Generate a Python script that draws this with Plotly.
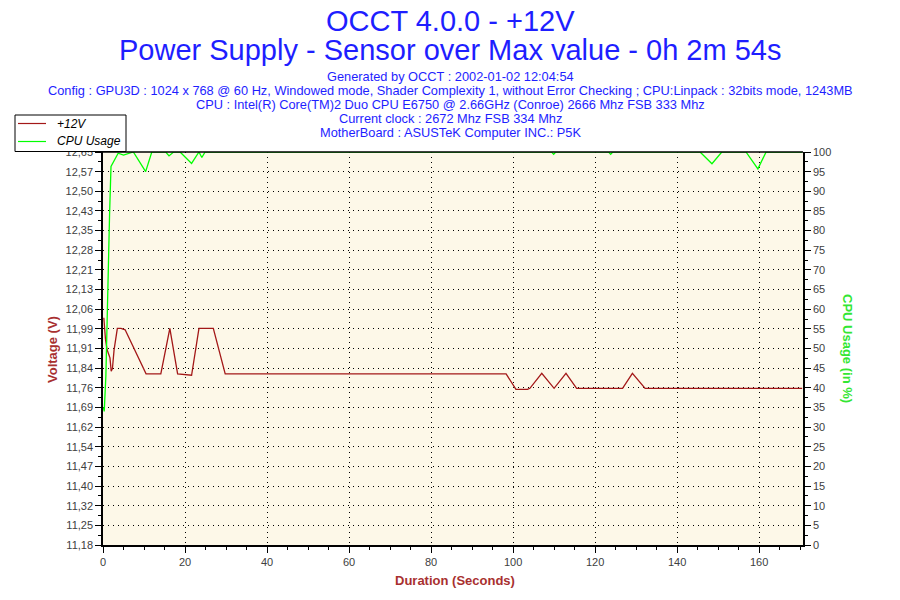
import numpy as np
import plotly.graph_objects as go

# datos
tiempo_v = [0.2, 0.6, 1.0, 1.7, 2.0, 2.3, 2.7, 3.1, 3.5, 4.4, 5.4, 10.5, 14.1, 16.3, 18.2, 21.6, 23.4, 26.9,
            29.8, 98.3, 99.5, 100.7, 103.5, 104.1, 107.0, 110.0, 112.9, 115.5, 126.7, 129.1, 132.2, 170.5]
voltaje = [12.03, 11.95, 11.91, 11.88, 11.83, 11.84, 11.91, 11.95, 11.99, 11.99, 11.985, 11.82, 11.82, 11.99, 11.82, 11.815, 11.99, 11.99,
           11.82, 11.82, 11.79, 11.762, 11.762, 11.766, 11.822, 11.766, 11.822, 11.766, 11.766, 11.822, 11.766, 11.766]

tiempo_cpu = [0.1, 0.3, 0.7, 1.0, 1.3, 1.6, 1.95, 3.7, 5.0, 6.2, 7.4, 10.4, 11.9, 15.3, 16.1, 17.2, 18.8, 21.6, 23.4, 24.1,
              24.9, 109.4, 109.9, 110.4, 123.3, 123.8, 124.3, 145.6, 148.5, 150.9, 156.8, 159.7, 161.7, 170.5]
cpu = [35, 34, 43, 59.4, 74.6, 84, 96.3, 99.7, 99.2, 99.7, 100, 95, 100, 100, 99, 100, 100, 97.1, 100, 98.6,
       100, 100, 99.4, 100, 100, 99.4, 100, 100, 97, 100, 100, 95.7, 100, 100]

etiquetas_volt = ["11,18", "11,25", "11,32", "11,40", "11,47", "11,54", "11,62", "11,69", "11,76", "11,84", "11,91",
                  "11,99", "12,06", "12,13", "12,21", "12,28", "12,35", "12,43", "12,50", "12,57", "12,65"]

lineas_titulo = ["Generated by OCCT : 2002-01-02 12:04:54",
                 "Config : GPU3D : 1024 x 768 @ 60 Hz, Windowed mode, Shader Complexity 1, without Error Checking ; CPU:Linpack : 32bits mode, 1243MB",
                 "CPU : Intel(R) Core(TM)2 Duo CPU E6750 @ 2.66GHz (Conroe) 2666 Mhz FSB 333 Mhz",
                 "Current clock : 2672 Mhz FSB 334 Mhz",
                 "MotherBoard : ASUSTeK Computer INC.: P5K"]

# escalas
v_min, v_max = 11.18, 12.65
x_max = 170.7
ticks_volt = np.linspace(v_min, v_max, 21)
minor_volt = (ticks_volt[:-1] + ticks_volt[1:]) / 2

rojo = "#A31818"
verde = "#00FF00"
azul = "#1E1EFF"
gris = "#404040"
fuente = "Liberation Sans"

# margenes del area de trazado (px)
L, R, T, B = 103, 97, 152, 55
W, H = 900, 600

def px_x(px):
    return (px - L) / (W - L - R)

def px_y(py):
    return (H - B - py) / (H - T - B)

fig = go.Figure()

fig.add_trace(go.Scatter(x=tiempo_cpu, y=cpu, name="CPU Usage", mode="lines",
                         line=dict(color=verde, width=1.3), yaxis="y2"))
fig.add_trace(go.Scatter(x=tiempo_v, y=voltaje, name="+12V", mode="lines",
                         line=dict(color=rojo, width=1.3)))

eje_comun = dict(showline=True, linecolor="black", linewidth=1.5, tickcolor="black",
                 tickfont=dict(family=fuente, size=11, color=gris), zeroline=False)

# leyenda dibujada a mano (caja + muestras)
formas = [
    dict(type="line", xref="paper", yref="paper", x0=0, x1=1, y0=1, y1=1,
         line=dict(color="black", width=1.5), layer="above"),
    dict(type="rect", xref="paper", yref="paper", x0=px_x(15), x1=px_x(126), y0=px_y(115), y1=px_y(151.5),
         fillcolor="white", line=dict(color="black", width=1), layer="above"),
    dict(type="line", xref="paper", yref="paper", x0=px_x(18), x1=px_x(46), y0=px_y(123.5), y1=px_y(123.5),
         line=dict(color=rojo, width=1.2), layer="above"),
    dict(type="line", xref="paper", yref="paper", x0=px_x(18), x1=px_x(46), y0=px_y(141.5), y1=px_y(141.5),
         line=dict(color=verde, width=1.2), layer="above"),
]

fig.update_layout(
    width=W, height=H,
    margin=dict(l=L, r=R, t=T, b=B, autoexpand=False),
    paper_bgcolor="white",
    plot_bgcolor="#FDF8E8",
    font=dict(family=fuente),
    xaxis=dict(range=[0, x_max], tickmode="linear", tick0=0, dtick=20, ticks="outside", ticklen=6,
               showgrid=True, gridcolor="black", griddash="1px,4px", gridwidth=1,
               minor=dict(dtick=5, ticks="outside", ticklen=3, tickcolor="black"), **eje_comun),
    yaxis=dict(range=[v_min, v_max], tickmode="array", tickvals=ticks_volt, ticktext=etiquetas_volt,
               ticks="outside", ticklen=6, showgrid=True, gridcolor="black",
               griddash="1px,4px", gridwidth=1,
               minor=dict(tickvals=minor_volt, ticks="outside", ticklen=3, tickcolor="black"), **eje_comun),
    yaxis2=dict(range=[0, 100], overlaying="y", side="right", tickmode="linear", tick0=0, dtick=5,
                ticks="outside", ticklen=6, showgrid=False,
                minor=dict(dtick=2.5, ticks="outside", ticklen=3, tickcolor="black"), **eje_comun),
    # ticks interiores para que crucen el eje
    xaxis2=dict(range=[0, x_max], overlaying="x", anchor="y", side="bottom", tickmode="linear", tick0=0,
                dtick=20, ticks="inside", ticklen=6, tickcolor="black", showticklabels=False,
                showgrid=False, zeroline=False, showline=False,
                minor=dict(dtick=5, ticks="inside", ticklen=3, tickcolor="black")),
    yaxis3=dict(range=[v_min, v_max], overlaying="y", anchor="x", side="left", tickmode="array",
                tickvals=ticks_volt, ticks="inside", ticklen=6, tickcolor="black", showticklabels=False,
                showgrid=False, zeroline=False, showline=False,
                minor=dict(tickvals=minor_volt, ticks="inside", ticklen=3, tickcolor="black")),
    yaxis4=dict(range=[0, 100], overlaying="y", anchor="x", side="right", tickmode="linear", tick0=0,
                dtick=5, ticks="inside", ticklen=6, tickcolor="black", showticklabels=False,
                showgrid=False, zeroline=False, showline=False,
                minor=dict(dtick=2.5, ticks="inside", ticklen=3, tickcolor="black")),
    showlegend=False,
    shapes=formas,
)

# titulos (posiciones en px del lienzo)
anotaciones = [
    dict(text="OCCT 4.0.0 - +12V", x=450, y=21, size=29, color=azul),
    dict(text="Power Supply - Sensor over Max value - 0h 2m 54s", x=450, y=50, size=29, color=azul),
]
for i, linea in enumerate(lineas_titulo):
    anotaciones.append(dict(text=linea, x=450, y=76 + i * 14.2, size=12.8, color=azul))
anotaciones += [
    dict(text="<b>Duration (Seconds)</b>", x=455, y=580, size=13, color="#A83030"),
    dict(text="<b>Voltage (V)</b>", x=52, y=350, size=13, color="#A83030", textangle=-90),
    dict(text="<b>CPU Usage (in %)</b>", x=848, y=348, size=13, color="#33E633", textangle=90),
    dict(text="<i>+12V</i>", x=55, y=123.5, size=12, color="black", xanchor="left"),
    dict(text="<i>CPU Usage</i>", x=55, y=141.5, size=12, color="black", xanchor="left"),
]

lista = []
for a in anotaciones:
    lista.append(dict(text=a["text"], x=px_x(a["x"]), y=px_y(a["y"]), xref="paper", yref="paper",
                      textangle=a.get("textangle", 0), xanchor=a.get("xanchor", "center"),
                      yanchor="middle", showarrow=False,
                      font=dict(family=fuente, size=a["size"], color=a["color"])))
fig.update_layout(annotations=lista)

# quitar el margen por defecto del body para que el grafico empiece en (0, 0)
fig.write_html("out.html", config={"displayModeBar": False},
               post_script="document.body.style.margin='0px';")
